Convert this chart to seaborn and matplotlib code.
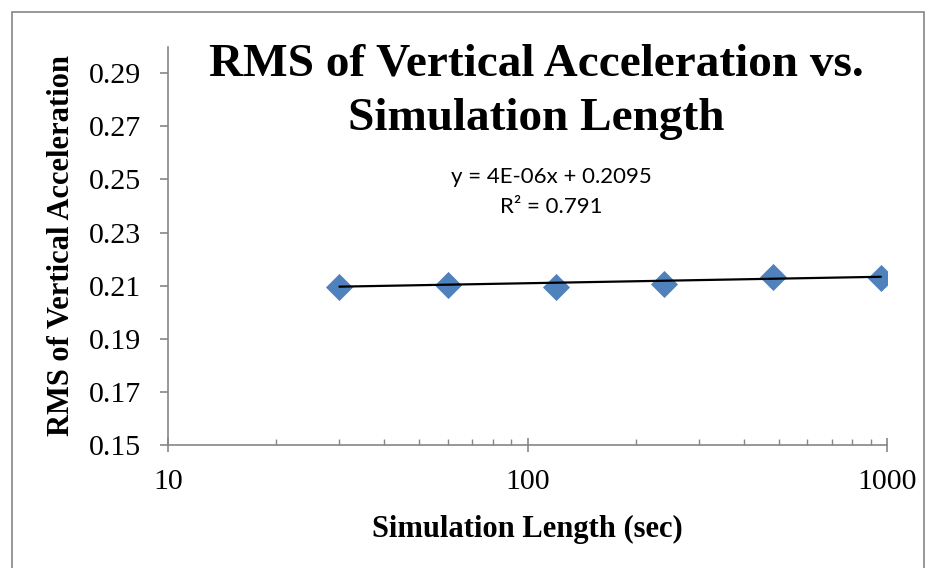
import numpy as np
import pandas as pd
import matplotlib
matplotlib.use('Agg')
import matplotlib.pyplot as plt
import matplotlib.patches as mpatches
from matplotlib.ticker import FixedLocator, NullFormatter, LogLocator
import seaborn as sns

# Data
sim_length = [30, 60, 120, 240, 480, 960]
rms_vert_acc = [0.2096, 0.2104, 0.2096, 0.2108, 0.2131, 0.2130]

# Excel linear trendline as printed on the chart
trend_slope = 4e-06
trend_intercept = 0.2095
trend_r2 = 0.791

y_ticks = [0.15, 0.17, 0.19, 0.21, 0.23, 0.25, 0.27, 0.29]
x_ticks = [10, 100, 1000]

df = pd.DataFrame({'Simulation Length (sec)': sim_length,
                   'RMS of Vertical Acceleration': rms_vert_acc})

# Excel draws the trendline as a straight segment between the end points
xfit = np.array([min(sim_length), max(sim_length)])
fit_df = pd.DataFrame({'x': xfit, 'y': trend_slope * xfit + trend_intercept})

sns.set_style('white')
plt.rcParams['font.family'] = ['Liberation Serif', 'DejaVu Serif']
plt.rcParams['text.color'] = 'black'
plt.rcParams['axes.labelcolor'] = 'black'
plt.rcParams['xtick.labelcolor'] = 'black'
plt.rcParams['ytick.labelcolor'] = 'black'

axis_color = '#868686'
W, H = 932, 568

fig = plt.figure(figsize=(9.32, 5.68), dpi=100)
ax = fig.add_axes([0.180, 0.2165, 0.772, 0.7015])

sns.lineplot(data=fit_df, x='x', y='y', color='black', linewidth=1.6, ax=ax, zorder=3)
sns.scatterplot(data=df, x='Simulation Length (sec)', y='RMS of Vertical Acceleration',
                marker='D', s=190, color='#4F81BD', linewidth=0, ax=ax, zorder=2)

ax.set_xscale('log')
ax.set_xlim(10, 1000)
ax.set_ylim(0.15, 0.30)
ax.yaxis.set_major_locator(FixedLocator(y_ticks))
ax.set_yticklabels([f'{t:.2f}' for t in y_ticks])
ax.xaxis.set_major_locator(FixedLocator(x_ticks))
ax.set_xticklabels([str(t) for t in x_ticks])
ax.xaxis.set_minor_locator(LogLocator(base=10, subs=np.arange(2, 10)))
ax.xaxis.set_minor_formatter(NullFormatter())

for side in ['top', 'right']:
    ax.spines[side].set_visible(False)
for side in ['left', 'bottom']:
    ax.spines[side].set_color(axis_color)
    ax.spines[side].set_linewidth(1.2)

ax.tick_params(axis='y', which='major', direction='out', length=6, width=1.2,
               color=axis_color, pad=13, labelsize=21.5, left=True)
ax.tick_params(axis='x', which='major', direction='inout', length=10, width=1.2,
               color=axis_color, pad=12, labelsize=21.5, bottom=True)
ax.tick_params(axis='x', which='minor', direction='in', length=4.5, width=1.0,
               color=axis_color, bottom=True)

ax.set_xlabel('Simulation Length (sec)', fontsize=22, fontweight='bold')
ax.set_ylabel('RMS of Vertical Acceleration', fontsize=22, fontweight='bold')
ax.xaxis.set_label_coords(0.5, -0.175)
ax.yaxis.set_label_coords(-0.128, 0.5)

# chart title, two centred lines
fig.text(536 / W, 1 - 76 / H, 'RMS of Vertical Acceleration vs.',
         ha='center', va='baseline', fontsize=34, fontweight='bold')
fig.text(536 / W, 1 - 130 / H, 'Simulation Length',
         ha='center', va='baseline', fontsize=34, fontweight='bold')

# trendline label
fig.text(551 / W, 1 - 183 / H, f'y = 4E-06x + {trend_intercept}',
         ha='center', va='baseline', fontsize=16, family=['Lato', 'DejaVu Sans'])
fig.text(551 / W, 1 - 213 / H, f'R² = {trend_r2}',
         ha='center', va='baseline', fontsize=16, family=['Lato', 'DejaVu Sans'])

border = mpatches.Rectangle((12 / W, -0.05), 912 / W, 1.05 - 12 / H,
                            transform=fig.transFigure, fill=False,
                            edgecolor=axis_color, linewidth=1.2)
fig.patches.append(border)

fig.savefig('out.png', dpi=100)
